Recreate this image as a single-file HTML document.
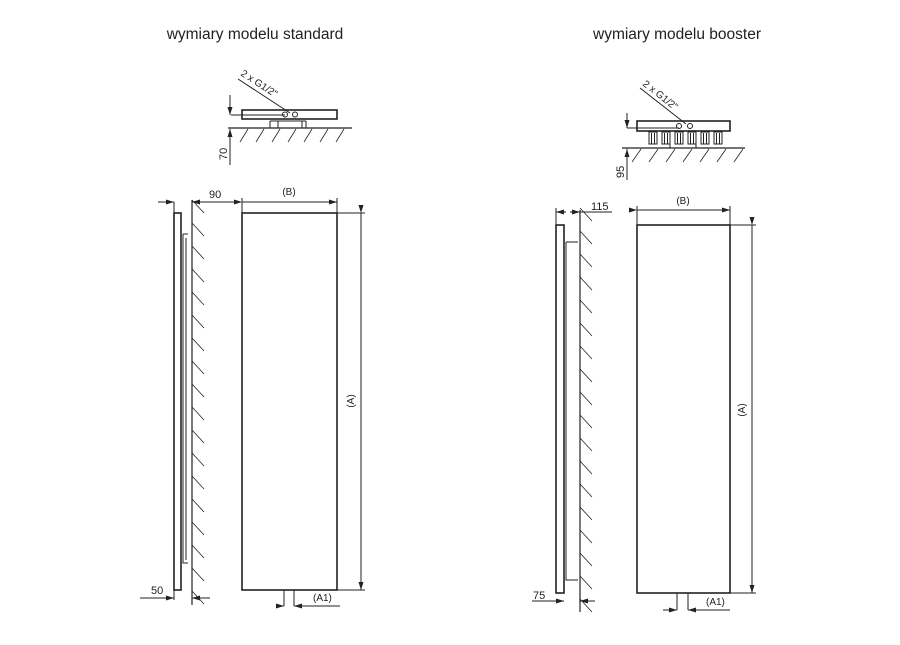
<!DOCTYPE html>
<html><head><meta charset="utf-8"><style>
html,body{margin:0;padding:0;background:#fff;}
svg{display:block;font-family:"Liberation Sans",sans-serif;}
</style></head><body>
<svg id="s" width="900" height="645" viewBox="0 0 900 645" xmlns="http://www.w3.org/2000/svg">
<defs><marker id="a" markerWidth="8" markerHeight="6" refX="8" refY="3" orient="auto" markerUnits="userSpaceOnUse"><path d="M0,0.5 L8,3 L0,5.5 z" fill="#222"/></marker></defs>
<g fill="#222" font-size="15.5">
<text x="255" y="39" text-anchor="middle">wymiary modelu standard</text>
<text x="677" y="39" text-anchor="middle">wymiary modelu booster</text>
</g>
<g stroke="#222" fill="none" stroke-width="1">
<rect x="242" y="110" width="95" height="9" stroke-width="1.6"/>
<circle cx="285" cy="114.5" r="2.5"/><circle cx="295" cy="114.5" r="2.5"/>
<line x1="238" y1="79" x2="290" y2="113"/>
<line x1="231" y1="115" x2="285" y2="115"/>
<path d="M270 121 V128 M306 121 V128 M270 121 H306"/>
<rect x="278" y="121" width="24" height="7"/>
<line x1="228" y1="128" x2="352" y2="128" stroke-width="1.2"/>
<line x1="230" y1="95" x2="230" y2="115" marker-end="url(#a)"/>
<line x1="230" y1="165" x2="230" y2="129" marker-end="url(#a)"/>
<rect x="174" y="213" width="7" height="377" stroke-width="1.6"/>
<path d="M183 234 H188 M183 234 V563 H188 M186 238 V560"/>
<line x1="192" y1="200" x2="192" y2="605" stroke-width="1.2"/>
<line x1="158" y1="202" x2="174" y2="202" marker-end="url(#a)"/>
<line x1="174" y1="202" x2="174" y2="213"/>
<line x1="235" y1="202" x2="192" y2="202" marker-end="url(#a)"/>
<line x1="140" y1="598" x2="174" y2="598" marker-end="url(#a)"/>
<line x1="210" y1="598" x2="192" y2="598" marker-end="url(#a)"/>
<line x1="174" y1="590" x2="174" y2="600"/>
<rect x="242" y="213" width="95" height="377" stroke-width="1.6"/>
<line x1="242" y1="202" x2="337" y2="202" marker-start="url(#a)" marker-end="url(#a)"/>
<line x1="242" y1="198" x2="242" y2="213"/><line x1="337" y1="198" x2="337" y2="213"/>
<line x1="337" y1="213" x2="365" y2="213"/><line x1="337" y1="590" x2="365" y2="590"/>
<line x1="361" y1="213" x2="361" y2="590" marker-start="url(#a)" marker-end="url(#a)"/>
<path d="M284 590 V606 M294 590 V606"/>
<line x1="276" y1="606" x2="284" y2="606" marker-end="url(#a)"/>
<line x1="340" y1="606" x2="294" y2="606" marker-end="url(#a)"/>
<rect x="637" y="121" width="93" height="10" stroke-width="1.6"/>
<circle cx="679" cy="126" r="2.5"/><circle cx="690" cy="126" r="2.5"/>
<line x1="640" y1="88" x2="686" y2="124"/>
<line x1="627" y1="128" x2="679" y2="128"/>
<g id="fins"></g>
<path d="M670 144 V148 M696 144 V148"/>
<line x1="622" y1="148" x2="745" y2="148" stroke-width="1.2"/>
<line x1="627" y1="113" x2="627" y2="128" marker-end="url(#a)"/>
<line x1="627" y1="180" x2="627" y2="149" marker-end="url(#a)"/>
<rect x="556" y="225" width="8" height="368" stroke-width="1.6"/>
<path d="M566 242 H578 M566 242 V580 H578"/>
<line x1="580" y1="210" x2="580" y2="612" stroke-width="1.2"/>
<line x1="556" y1="208" x2="556" y2="225"/>
<line x1="566" y1="212" x2="556" y2="212" marker-end="url(#a)"/>
<line x1="570" y1="212" x2="580" y2="212" marker-end="url(#a)"/>
<line x1="580" y1="212" x2="612" y2="212"/>
<line x1="532" y1="601" x2="564" y2="601" marker-end="url(#a)"/>
<line x1="595" y1="601" x2="580" y2="601" marker-end="url(#a)"/>
<rect x="637" y="225" width="93" height="368" stroke-width="1.6"/>
<line x1="637" y1="210" x2="730" y2="210" marker-start="url(#a)" marker-end="url(#a)"/>
<line x1="637" y1="206" x2="637" y2="225"/><line x1="730" y1="206" x2="730" y2="225"/>
<line x1="730" y1="225" x2="756" y2="225"/><line x1="730" y1="593" x2="756" y2="593"/>
<line x1="752" y1="225" x2="752" y2="593" marker-start="url(#a)" marker-end="url(#a)"/>
<path d="M677 593 V610 M688 593 V610"/>
<line x1="663" y1="610" x2="677" y2="610" marker-end="url(#a)"/>
<line x1="730" y1="610" x2="688" y2="610" marker-end="url(#a)"/>
<g id="hatch" stroke-width="0.8"></g>
</g>
<g fill="#222" font-size="10">
<text transform="translate(240,75) rotate(33)">2 x G1/2"</text>
<text transform="translate(642,85) rotate(38)">2 x G1/2"</text>
<text transform="translate(227,160) rotate(-90)" font-size="11">70</text>
<text transform="translate(624,178) rotate(-90)" font-size="11">95</text>
<text x="209" y="198" font-size="11">90</text>
<text x="591" y="210" font-size="11">115</text>
<text x="151" y="594" font-size="11">50</text>
<text x="533" y="599" font-size="11">75</text>
<text x="289" y="195" text-anchor="middle">(B)</text>
<text x="683" y="204" text-anchor="middle">(B)</text>
<text transform="translate(354,401) rotate(-90)" text-anchor="middle">(A)</text>
<text transform="translate(745,410) rotate(-90)" text-anchor="middle">(A)</text>
<text x="313" y="601">(A1)</text>
<text x="706" y="605">(A1)</text>
</g>
<script>
var ns="http://www.w3.org/2000/svg",h=document.getElementById("hatch"),f=document.getElementById("fins");
function L(g,x1,y1,x2,y2){var l=document.createElementNS(ns,"line");l.setAttribute("x1",x1);l.setAttribute("y1",y1);l.setAttribute("x2",x2);l.setAttribute("y2",y2);g.appendChild(l);}
for(var x=240;x<352;x+=16)L(h,x+8,129,x,142);
for(var x=632;x<745;x+=17)L(h,x+9,149,x,162);
for(var y=200;y<600;y+=23)L(h,192,y,204,y+13);
for(var y=208;y<606;y+=23)L(h,580,y,592,y+13);
[653,666,679,692,705,718].forEach(function(x){var r=document.createElementNS(ns,"rect");r.setAttribute("x",x-4);r.setAttribute("y",132);r.setAttribute("width",8);r.setAttribute("height",12);f.appendChild(r);L(f,x-1.5,133,x-1.5,144);L(f,x+1.5,133,x+1.5,144);});
</script>
</svg>
</body></html>
